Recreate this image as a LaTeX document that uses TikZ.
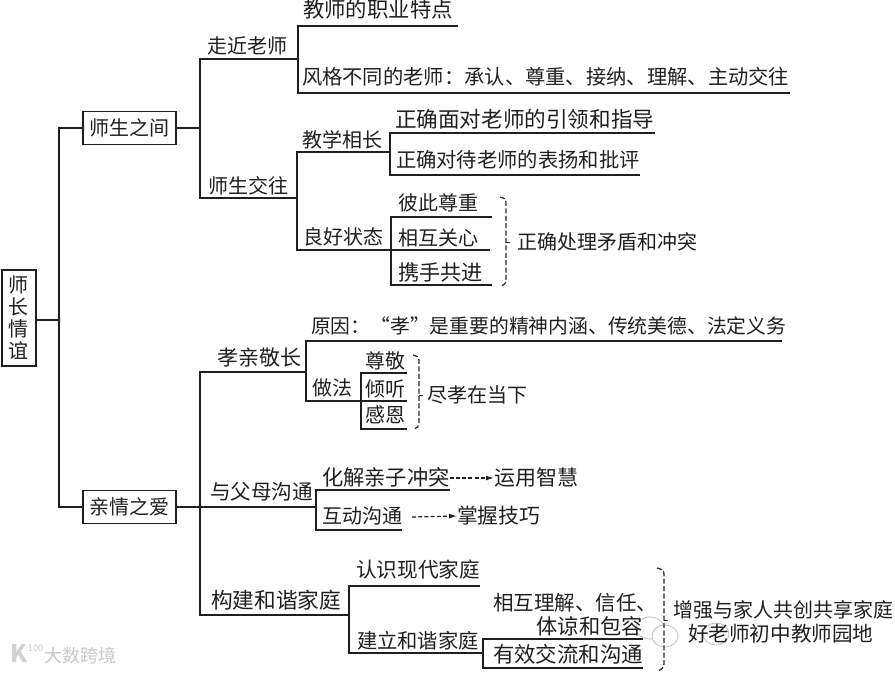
\documentclass[tikz,border=0pt]{standalone}
\usepackage{fontspec}
\setmainfont{Noto Sans CJK SC}
\usetikzlibrary{arrows.meta,calc}
\tikzset{
 x=1pt,y=-1pt,
 fs/.style={font=\fontsize{#1}{22}\selectfont},
 wire/.style={draw=black!88,line width=1.3pt},
 lbl/.style={inner sep=0pt,outer sep=0pt,fs=20,text=black!88},
 lblw/.style={lbl,anchor=west},
 boxn/.style={draw=black!88,line width=1.3pt,inner sep=0pt,fs=20,text=black!88,align=center},
 brace/.style={draw=black!85,line width=1.2pt,dash pattern=on 5pt off 2.4pt},
 darr/.style={draw=black!88,line width=1.2pt,dash pattern=on 4pt off 2.2pt,-{Latex[length=8pt,width=5pt]}},
 wm/.style={inner sep=0pt,fs=18,text=black!22},
 wmline/.style={draw=black!25,line width=.8pt},
}
\begin{document}
\begin{tikzpicture}
\useasboundingbox (0,0) rectangle (895,673);
% watermark marks
\draw[wmline] (650,628) ellipse (14pt and 11pt);
\draw[wmline,fill=white] (665,636) ellipse (13pt and 11pt);
\draw[wmline] (716,634) ellipse (13pt and 11pt);
\node[wm,font=\fontsize{24}{24}\bfseries\selectfont,text=black!18,anchor=west] (w0) at (10,654) {K};
\node[wm,font=\fontsize{9}{9}\selectfont,text=black!22,anchor=west] (w2) at (28,648) {100};
\node[wm,anchor=west] (w1) at (44,656) {大数跨境};
% boxes
\node[boxn,minimum width=34pt,minimum height=96pt] (root) at (19,318) {师\\长\\情\\谊};
\node[boxn,minimum width=93pt,minimum height=33pt] (sis) at (129.5,128) {师生之间};
\node[boxn,minimum width=93pt,minimum height=33pt] (qin) at (129.5,507) {亲情之爱};
% trunk
\coordinate (tr) at (59,320);
\draw[wire] (root.east|-tr) -- (tr);
\draw[wire] (sis.west) -| (tr) |- (qin.west);
% upper branch
\coordinate (u1) at (200,128);
\coordinate (zjl) at (200,59);  \coordinate (zjr) at (298,59);
\coordinate (sjl) at (200,198); \coordinate (sjr) at (297,198);
\draw[wire] (sis.east) -- (u1);
\draw[wire] (zjr) -- (zjl) -- (sjl) -- (sjr);
\node[lbl] (zj) at (247,46) {走近老师};
\node[lbl] (sj) at (248,186) {师生交往};
\node[lbl] (js) at (342,140) {教学相长};
\node[lbl] (lh) at (343,237) {良好状态};
\node[lblw,fs=21.4] (t1) at (303,9) {教师的职业特点};
\node[lblw,fs=20.3] (t2) at (302,77) {风格不同的老师：承认、尊重、接纳、理解、主动交往};
\coordinate (t1r) at (458,26); \coordinate (t1l) at (298,26);
\coordinate (t2l) at (298,93); \coordinate (t2r) at (790,93);
\draw[wire] (t1r) -- (t1l) -- (t2l) -- (t2r);
\node[lblw,fs=21.6] (t3) at (395,119) {正确面对老师的引领和指导};
\node[lblw,fs=20.3] (t4) at (396,160) {正确对待老师的表扬和批评};
\coordinate (t3r) at (655,133); \coordinate (t3l) at (390,133);
\coordinate (t4l) at (390,175); \coordinate (t4r) at (640,175);
\draw[wire] (t3r) -- (t3l) -- (t4l) -- (t4r);
\coordinate (jsl) at (297,152); \coordinate (jsr) at (390,152);
\coordinate (lhl) at (297,250); \coordinate (lhr) at (391,250);
\draw[wire] (jsr) -- (jsl) -- (lhl) -- (lhr);
\node[lblw] (a1) at (398,203) {彼此尊重};
\node[lblw] (a2) at (398,238) {相互关心};
\node[lblw,fs=21.2] (a3) at (398,272) {携手共进};
\coordinate (a1r) at (492,217); \coordinate (a1l) at (391,217);
\coordinate (a3l) at (391,285); \coordinate (a3r) at (492,285);
\coordinate (a2r) at (490,250);
\draw[wire] (a1r) -- (a1l) -- (a3l) -- (a3r);
\draw[wire] (lhr) -- (a2r);
\node[lblw] (a4) at (517,242) {正确处理矛盾和冲突};
\draw[brace] (500,197) .. controls (504,198) and (506,199) .. (506,203) -- (506,280) .. controls (506,284) and (504,285) .. (500,286);
\draw[black!85,line width=1pt] (506,242) -- (510,242);
% lower branch
\coordinate (xql) at (200,372); \coordinate (xqr) at (306,372);
\coordinate (gour) at (316,507);
\coordinate (gjl) at (200,615); \coordinate (gjr) at (349,615);
\draw[wire] (qin.east) -- (gour);
\draw[wire] (xqr) -- (xql) -- (gjl) -- (gjr);
\node[lbl,fs=21] (xq) at (259,358) {孝亲敬长};
\node[lblw,fs=19.8] (b1) at (311,326) {原因：“孝”是重要的精神内涵、传统美德、法定义务};
\node[lbl] (zf) at (332,388) {做法};
\coordinate (b1r) at (782,341); \coordinate (b1l) at (306,341);
\coordinate (zfl) at (306,401); \coordinate (zfr) at (361,401);
\draw[wire] (b1r) -- (b1l) -- (zfl) -- (zfr);
\node[lblw] (c1) at (365,361) {尊敬};
\node[lblw] (c2) at (365,389) {倾听};
\node[lblw] (c3) at (365,415) {感恩};
\coordinate (c1r) at (407,373); \coordinate (c1l) at (361,373);
\coordinate (c3l) at (361,429); \coordinate (c3r) at (407,429);
\coordinate (c2r) at (407,401);
\draw[wire] (c1r) -- (c1l) -- (c3l) -- (c3r);
\draw[wire] (zfr) -- (c2r);
\draw[brace] (413,355) .. controls (417,356) and (419,357) .. (419,360) -- (419,424) .. controls (419,427) and (417,428) .. (413,429);
\draw[black!85,line width=1pt] (419,395) -- (423,395);
\node[lblw] (c4) at (427,395) {尽孝在当下};
\node[lblw,fs=20.6] (d0) at (210,492) {与父母沟通};
\node[lblw,fs=21.3] (d1) at (322,477) {化解亲子冲突};
\node[lblw,fs=21] (d2) at (494,478) {运用智慧};
\node[lblw] (d3) at (322,516) {互动沟通};
\node[lblw,fs=20.8] (d4) at (457,516) {掌握技巧};
\coordinate (d1r) at (450,490); \coordinate (d1l) at (316,490);
\coordinate (d3l) at (316,530); \coordinate (d3r) at (402,530);
\draw[wire] (d1r) -- (d1l) -- (d3l) -- (d3r);
\draw[darr] (d1.east|-d2) -- (d2.west);
\draw[darr] (d3.east) ++(10,1) -- (d4.west);
\node[lblw,fs=21.7] (e0) at (211,600) {构建和谐家庭};
\node[lblw,fs=20.7] (e1) at (356,570) {认识现代家庭};
\node[lblw,fs=20.3] (e2) at (357,641) {建立和谐家庭};
\coordinate (e1r) at (480,586); \coordinate (e1l) at (349,586);
\coordinate (e2l) at (349,653); \coordinate (e2r) at (483,653);
\draw[wire] (e1r) -- (e1l) -- (e2l) -- (e2r);
\node[lbl,anchor=east,fs=20.5] (f1) at (657,603) {相互理解、信任、};
\node[lbl,anchor=east,fs=21.3] (f2) at (643,626) {体谅和包容};
\node[lblw,fs=21.4] (f3) at (493,654) {有效交流和沟通};
\coordinate (f3a) at (643,639); \coordinate (f3b) at (483,639);
\coordinate (f3c) at (483,668); \coordinate (f3d) at (643,668);
\draw[wire] (f3a) -- (f3b) -- (f3c) -- (f3d);
\draw[brace] (657,568) .. controls (661,569) and (664,570) .. (664,574) -- (664,664) .. controls (664,668) and (661,670) .. (657,671);
\draw[black!85,line width=1pt] (664,620) -- (668,620);
\node[lblw] (g1) at (673,610) {增强与家人共创共享家庭};
\node[lblw,fs=20.6] (g2) at (688,634) {好老师初中教师园地};
\end{tikzpicture}
\end{document}
